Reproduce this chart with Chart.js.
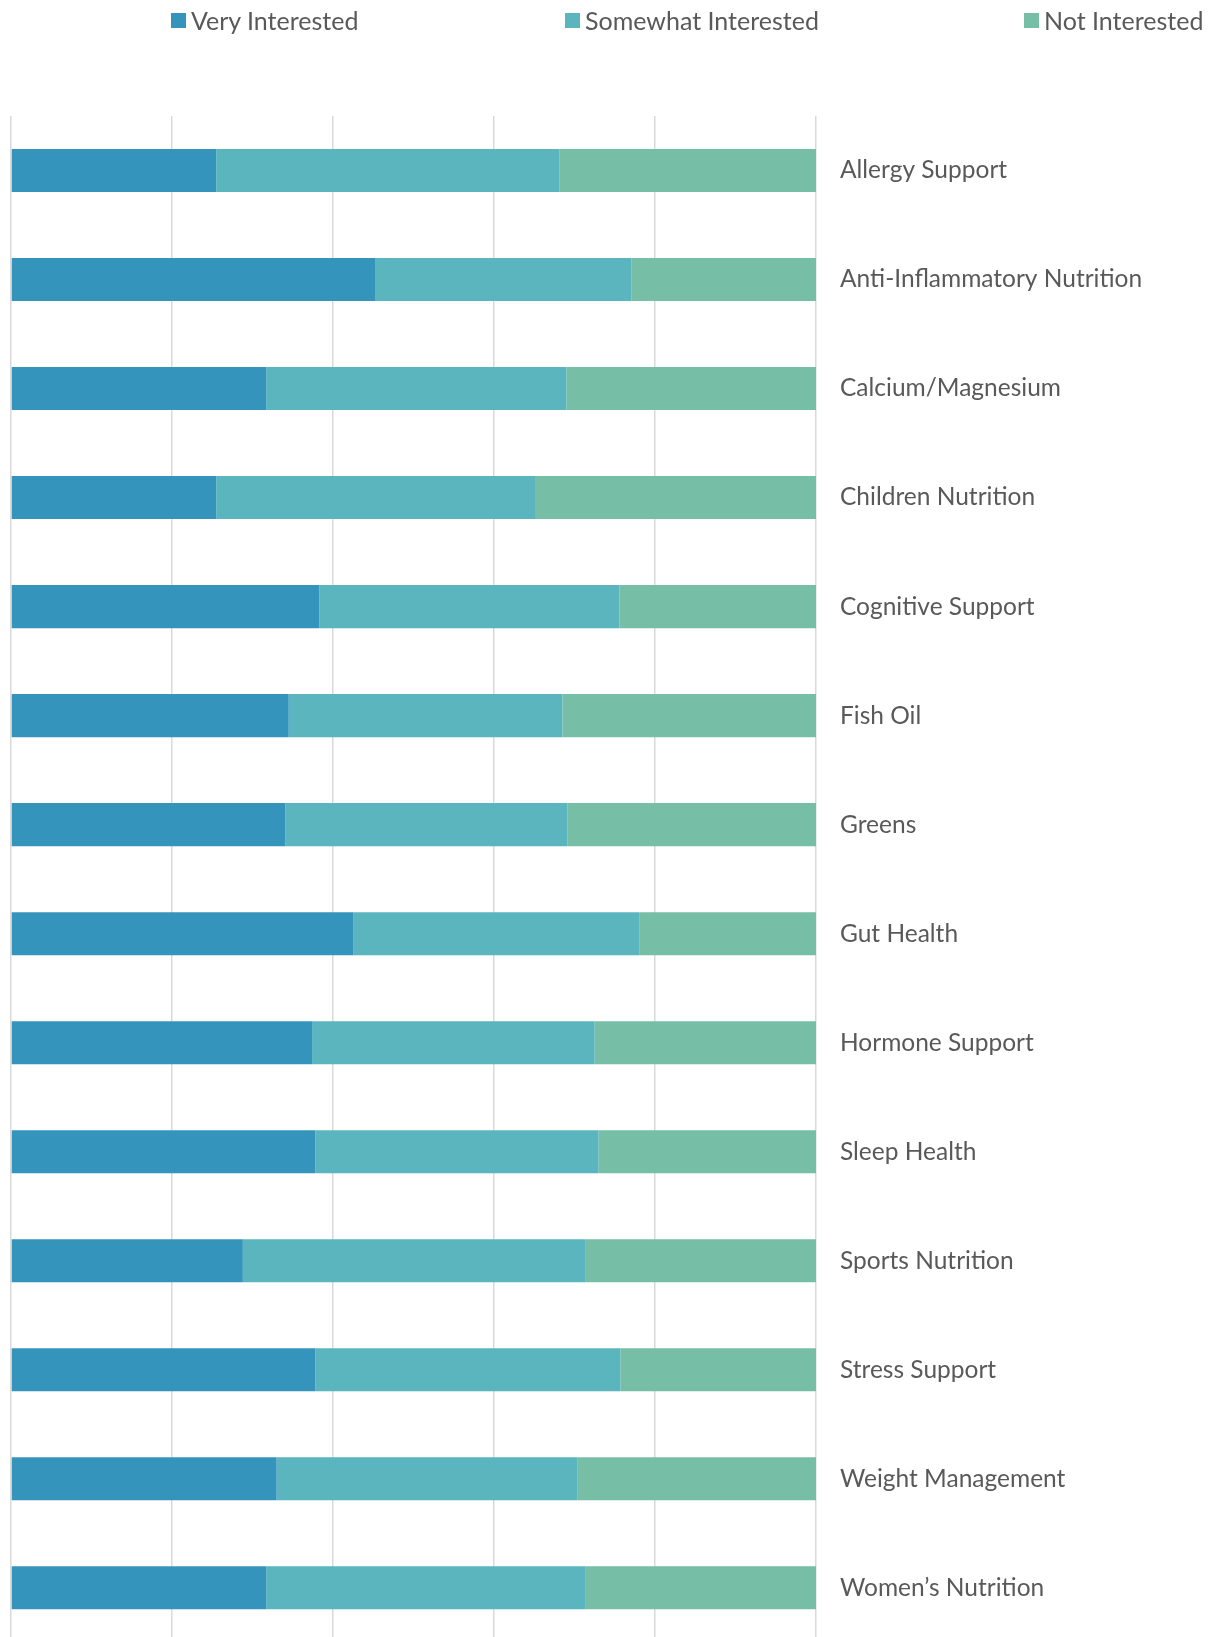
<!DOCTYPE html>
<html>
<head>
<meta charset="utf-8">
<script src="https://cdn.jsdelivr.net/npm/chart.js@4/dist/chart.umd.min.js"></script>
<style>
  html, body { margin: 0; padding: 0; background: #fff; overflow: hidden; }
  #wrap { position: relative; width: 1209px; height: 1637px; overflow: hidden; }
  #chart { position: absolute; top: 0; left: 0; }
  #legend { position: absolute; top: 0; left: 0; width: 1209px; height: 40px; font-family: Lato, sans-serif; font-size: 25px; color: #595959; }
  .item { position: absolute; top: 6px; height: 28px; display: flex; align-items: center; white-space: nowrap; }
  .box { width: 15px; height: 15px; margin-right: 5px; }
</style>
</head>
<body>
<div id="wrap">
  <canvas id="chart" width="1209" height="1681"></canvas>
  <div id="legend"></div>
</div>
<script>
const categories = [
  'Allergy Support', 'Anti-Inflammatory Nutrition', 'Calcium/Magnesium', 'Children Nutrition',
  'Cognitive Support', 'Fish Oil', 'Greens', 'Gut Health', 'Hormone Support', 'Sleep Health',
  'Sports Nutrition', 'Stress Support', 'Weight Management', 'Women\u2019s Nutrition'
];
const seriesNames = ['Very Interested', 'Somewhat Interested', 'Not Interested'];
const veryInterested = [25.5, 45.3, 31.7, 25.5, 38.3, 34.5, 34.1, 42.5, 37.4, 37.8, 28.8, 37.8, 33.0, 31.7];
const somewhatInterested = [42.6, 31.8, 37.3, 39.7, 37.3, 34.0, 35.0, 35.6, 35.1, 35.2, 42.6, 37.9, 37.4, 39.7];
const notInterested = [31.9, 22.9, 31.0, 34.8, 24.4, 31.5, 30.9, 21.9, 27.5, 27.0, 28.6, 24.3, 29.6, 28.6];
const xTicks = [0, 20, 40, 60, 80, 100];

const colors = ['#3594BB', '#5AB5BF', '#76BEA5'];
const textColor = '#595959';
const fontFamily = 'Lato, sans-serif';

// legend drawn as html so the items can sit where they sit in the original
const legendLeft = [171, 565, 1024];
const legend = document.getElementById('legend');
seriesNames.forEach((name, i) => {
  const item = document.createElement('div');
  item.className = 'item';
  item.style.left = legendLeft[i] + 'px';
  item.innerHTML = `<span class="box" style="background:${colors[i]}"></span><span>${name}</span>`;
  legend.appendChild(item);
});

const seriesData = [veryInterested, somewhatInterested, notInterested];

new Chart(document.getElementById('chart').getContext('2d'), {
  type: 'bar',
  data: {
    labels: categories,
    datasets: seriesNames.map((name, i) => ({
      label: name,
      data: seriesData[i],
      backgroundColor: colors[i],
      borderWidth: 0,
      barPercentage: 0.395,
      categoryPercentage: 1,
    })),
  },
  options: {
    indexAxis: 'y',
    responsive: false,
    animation: false,
    layout: { padding: { top: 116, left: 11, right: 0, bottom: 0 } },
    plugins: {
      legend: { display: false },
      tooltip: { enabled: false },
    },
    scales: {
      x: {
        stacked: true,
        min: xTicks[0],
        max: xTicks[xTicks.length - 1],
        afterBuildTicks: scale => {
          scale.ticks = xTicks.map(v => ({ value: v }));
        },
        ticks: { display: false },
        grid: { color: '#D9D9D9', lineWidth: 1.5, drawTicks: false },
        border: { display: false },
      },
      y: {
        stacked: true,
        position: 'right',
        grid: { display: false, drawTicks: false },
        border: { display: false },
        ticks: {
          color: textColor,
          padding: 24,
          font: { family: fontFamily, size: 24.5 },
        },
        afterFit: scale => {
          scale.width = 393;
        },
      },
    },
  },
});
</script>
</body>
</html>
